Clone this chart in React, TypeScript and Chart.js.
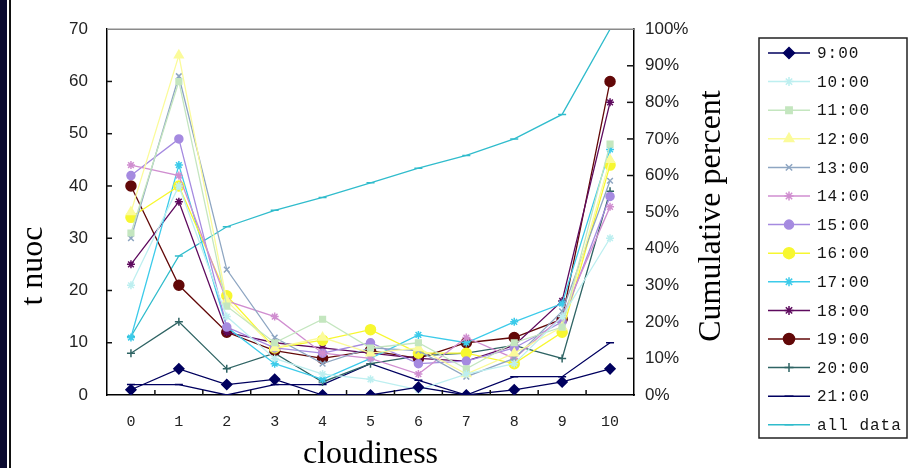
import React, { useEffect, useRef } from 'react';
import { Chart, registerables } from 'chart.js';
import { drawPoint } from 'chart.js/helpers';

Chart.register(...registerables);

// ---- data ----
const categories = ['0', '1', '2', '3', '4', '5', '6', '7', '8', '9', '10'];
const seriesNames = ['9:00', '10:00', '11:00', '12:00', '13:00', '14:00', '15:00', '16:00', '17:00', '18:00', '19:00', '20:00', '21:00', 'all data'];

const v0900 = [1, 5, 2, 3, 0, 0, 1.5, 0, 1, 2.5, 5];
const v1000 = [21, 40, 15, 7, 4, 3, 1, 4, 6, 15, 30];
const v1100 = [31, 60, 17, 10, 14.5, 9, 10, 5, 10, 13, 48];
const v1200 = [35, 65, 18, 9, 11, 8, 9, 4, 8, 13, 45];
const v1300 = [30, 61, 24, 11, 6, 9, 8.5, 3.5, 7, 16, 41];
const v1400 = [44, 42, 18, 15, 8, 7, 4, 11, 7, 15, 36];
const v1500 = [42, 49, 13, 9, 8, 10, 6, 6.5, 9, 14, 38];
const v1600 = [34, 40, 19, 9, 10.5, 12.5, 8, 8, 6, 12, 44];
const v1700 = [11, 44, 13, 6, 3, 7, 11.5, 10, 14, 17.5, 47];
const v1800 = [25, 37, 12, 10, 9, 8, 7, 6.5, 9.5, 18, 56];
const v1900 = [40, 21, 12, 8.5, 7, 8.5, 7, 10, 11, 14.5, 60];
const v2000 = [8, 14, 5, 8, 2.5, 6, 7.5, 8, 9.5, 7, 39];
const v2100 = [2, 2, 0, 2, 2, 6, 2.8, 0, 3.5, 3.5, 10];
const allDataPct = [16, 38, 46, 50.5, 54, 58, 62, 65.5, 70, 76.7, 100];

const leftMax = 70;
const leftStep = 10;
const rightMax = 100;
const rightStep = 10;

const xTitle = 'cloudiness';
const yTitle = 't nuoc';
const y1Title = 'Cumulative percent';

// ---- styles (kept apart from data) ----
const styles = [
  { color: '#00005e', style: 'rectRot', r: 5 },
  { color: '#bdeff0', style: 'star', r: 4 },
  { color: '#c4e6bf', style: 'rect', r: 4 },
  { color: '#fbfb9a', style: 'triangle', r: 5 },
  { color: '#8ea6c2', style: 'crossRot', r: 4 },
  { color: '#d08ed0', style: 'star', r: 4 },
  { color: '#a58ae0', style: 'circle', r: 4 },
  { color: '#f7f730', style: 'circle', r: 5 },
  { color: '#3ccbea', style: 'star', r: 4 },
  { color: '#5e0a5e', style: 'star', r: 4 },
  { color: '#620808', style: 'circle', r: 5 },
  { color: '#2f6464', style: 'cross', r: 4 },
  { color: '#000060', style: 'line', r: 4 },
  { color: '#30bccc', style: 'line', r: 4 },
];

const seriesValues = [v0900, v1000, v1100, v1200, v1300, v1400, v1500, v1600, v1700, v1800, v1900, v2000, v2100, allDataPct];

const decoPlugin = {
  id: 'deco',
  afterDraw(chart: any) {
    const { ctx, chartArea: a, scales } = chart;
    ctx.save();
    // top border
    ctx.strokeStyle = '#8a8a8a';
    ctx.lineWidth = 1.5;
    ctx.beginPath();
    ctx.moveTo(a.left, a.top);
    ctx.lineTo(a.right, a.top);
    ctx.stroke();
    // inner ticks
    ctx.strokeStyle = '#111';
    ctx.lineWidth = 1.5;
    const seg = (x1: number, y1: number, x2: number, y2: number) => {
      ctx.beginPath();
      ctx.moveTo(x1, y1);
      ctx.lineTo(x2, y2);
      ctx.stroke();
    };
    scales.y.ticks.forEach((t: any) => {
      if (t.value <= 0 || t.value >= leftMax) return;
      const y = scales.y.getPixelForValue(t.value);
      seg(a.left, y, a.left + 5, y);
    });
    scales.y1.ticks.forEach((t: any) => {
      if (t.value <= 0 || t.value >= rightMax) return;
      const y = scales.y1.getPixelForValue(t.value);
      seg(a.right - 7, y, a.right, y);
    });
    const n = categories.length;
    for (let i = 1; i < n; i++) {
      const x = a.left + (i * (a.right - a.left)) / n;
      seg(x, a.bottom, x, a.bottom - 5);
    }
    // axis titles
    ctx.fillStyle = '#000';
    ctx.font = '32px "Liberation Serif"';
    ctx.textAlign = 'center';
    ctx.textBaseline = 'alphabetic';
    ctx.fillText(xTitle, (a.left + a.right) / 2, 463);
    ctx.save();
    ctx.translate(42, 266);
    ctx.rotate(-Math.PI / 2);
    ctx.fillText(yTitle, 0, 0);
    ctx.restore();
    ctx.save();
    ctx.translate(720, 216);
    ctx.rotate(-Math.PI / 2);
    ctx.fillText(y1Title, 0, 0);
    ctx.restore();

    // legend
    const bx = 759, by = 38, bw = 148, bh = 400;
    ctx.fillStyle = '#fff';
    ctx.fillRect(bx, by, bw, bh);
    ctx.strokeStyle = '#222';
    ctx.lineWidth = 1.5;
    ctx.strokeRect(bx, by, bw, bh);
    const dsets = chart.data.datasets;
    const step = 28.6;
    dsets.forEach((ds: any, i: number) => {
      const y = 53 + i * step;
      ctx.strokeStyle = ds.borderColor;
      ctx.lineWidth = 1.5;
      seg(768, y, 810, y);
      ctx.fillStyle = ds.pointBackgroundColor;
      ctx.strokeStyle = ds.pointBorderColor;
      ctx.lineWidth = 1.5;
      drawPoint(ctx, { pointStyle: ds.pointStyle, radius: ds.pointRadius + 0.5, rotation: 0, borderWidth: 1.5 }, 789, y);
      ctx.fillStyle = '#151515';
      ctx.font = '16px "Liberation Mono"';
      (ctx as any).letterSpacing = '1px';
      ctx.textAlign = 'left';
      ctx.textBaseline = 'middle';
      ctx.fillText(ds.label, 817, y + 1);
      (ctx as any).letterSpacing = '0px';
    });
    ctx.restore();
  },
};

export default function App() {
  const ref = useRef<HTMLCanvasElement | null>(null);
  useEffect(() => {
    if (!ref.current) return;
    const datasets = seriesNames.map((name, i) => {
      const st = styles[i];
      return {
        label: name,
        data: seriesValues[i],
        yAxisID: name === 'all data' ? 'y1' : 'y',
        borderColor: st.color,
        backgroundColor: st.color,
        pointBackgroundColor: st.color,
        pointBorderColor: st.color,
        pointStyle: st.style,
        pointRadius: st.r,
        pointBorderWidth: 1.5,
        borderWidth: 1.3,
        tension: 0,
        fill: false,
      };
    });
    const tickFont = { family: '"Liberation Sans", Arial, sans-serif', size: 17 };
    const chart = new Chart(ref.current, {
      type: 'line',
      data: { labels: categories, datasets },
      plugins: [decoPlugin],
      options: {
        responsive: false,
        animation: false,
        events: [],
        layout: { padding: { left: 12, right: 185, top: 21, bottom: 0 } },
        plugins: { legend: { display: false }, tooltip: { enabled: false }, title: { display: false } },
        scales: {
          x: {
            type: 'category',
            offset: true,
            grid: { display: false, drawTicks: false },
            border: { display: true, color: '#000', width: 1.5 },
            ticks: { padding: 18, color: '#222', font: { family: '"Liberation Mono", monospace', size: 15 } },
            afterFit: (s: any) => { s.height = 73; },
          },
          y: {
            position: 'left',
            min: 0,
            max: leftMax,
            grid: { display: false, drawTicks: false },
            border: { display: true, color: '#000', width: 1.5 },
            ticks: { stepSize: leftStep, padding: 19, color: '#222', font: tickFont },
            afterFit: (s: any) => { s.width = 95; },
          },
          y1: {
            position: 'right',
            min: 0,
            max: rightMax,
            grid: { display: false, drawTicks: false },
            border: { display: true, color: '#000', width: 1.5 },
            ticks: { stepSize: rightStep, padding: 11, color: '#222', font: tickFont, callback: (v: any) => v + '%' },
            afterFit: (s: any) => { s.width = 95; },
          },
        },
      } as any,
    });
    return () => chart.destroy();
  }, []);

  return (
    <div style={{ position: 'absolute', left: 0, top: 0, width: 914, height: 468, background: '#fff', overflow: 'hidden' }}>
      <div style={{ position: 'absolute', left: 0, top: 0, width: 7, height: 468, background: '#0a0a30' }} />
      <div style={{ position: 'absolute', left: 9, top: 0, width: 2, height: 468, background: '#111' }} />
      <canvas ref={ref} width={914} height={468} style={{ position: 'absolute', left: 0, top: 0 }} />
    </div>
  );
}
